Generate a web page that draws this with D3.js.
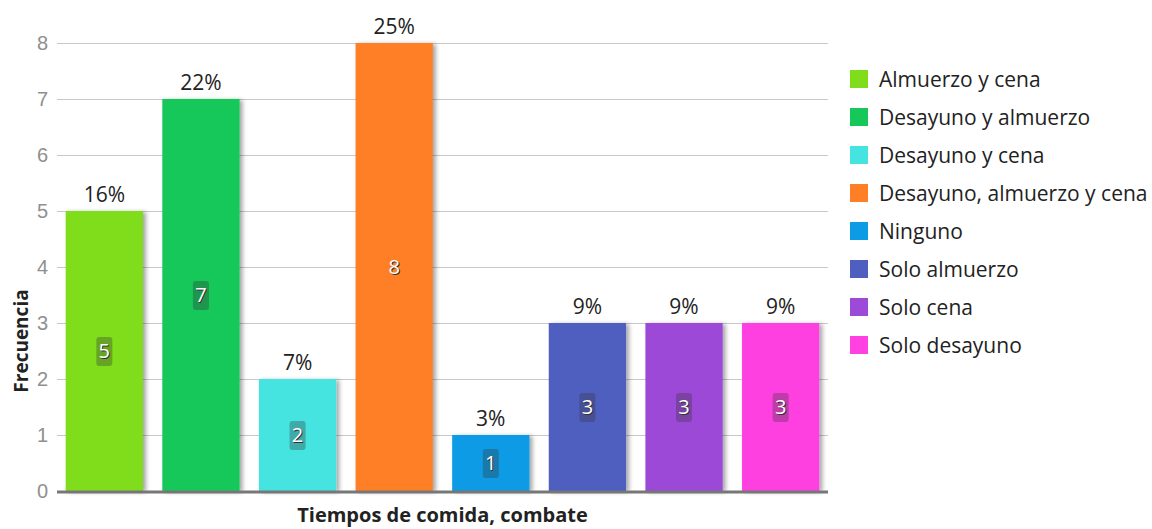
<!DOCTYPE html>
<html>
<head>
<meta charset="utf-8">
<script src="https://cdn.jsdelivr.net/npm/d3@7"></script>
<style>
  html, body { margin: 0; padding: 0; background: #fff; }
  svg { display: block; font-family: "Open Sans", "Noto Sans", sans-serif; }
</style>
</head>
<body>
<svg id="chart" width="1152" height="529"></svg>
<script>
// Meal times reported (frequency per category)
const categories = [
  "Almuerzo y cena",
  "Desayuno y almuerzo",
  "Desayuno y cena",
  "Desayuno, almuerzo y cena",
  "Ninguno",
  "Solo almuerzo",
  "Solo cena",
  "Solo desayuno"
];
const counts = [5, 7, 2, 8, 1, 3, 3, 3];
const percentLabels = ["16%", "22%", "7%", "25%", "3%", "9%", "9%", "9%"];
const colors = ["#7fdd1b", "#16c75a", "#45e4e1", "#ff7f27", "#0e9be5", "#4f5fc0", "#9d4ad8", "#ff41e1"];
const yTicks = [0, 1, 2, 3, 4, 5, 6, 7, 8];

const svg = d3.select("#chart");
const margin = { left: 57, right: 324, top: 43, bottom: 38 };
const W = 1152, H = 529;

const x = d3.scaleBand()
  .domain(categories)
  .range([margin.left, W - margin.right])
  .paddingInner(0.2)
  .paddingOuter(0.09);

const y = d3.scaleLinear()
  .domain([0, 8])
  .range([H - margin.bottom, margin.top]);

// Drop shadow for bars
const defs = svg.append("defs");
const f = defs.append("filter").attr("id", "shadow")
  .attr("x", "-20%").attr("y", "-20%").attr("width", "150%").attr("height", "150%");
f.append("feDropShadow").attr("dx", 3).attr("dy", 1).attr("stdDeviation", 2)
  .attr("flood-color", "#000").attr("flood-opacity", 0.35);

// Gridlines + y axis labels
const yAxis = d3.axisLeft(y).tickValues(yTicks).tickSize(-(W - margin.right - margin.left)).tickPadding(9);
const yg = svg.append("g").attr("transform", `translate(${margin.left},0)`).call(yAxis);
yg.select(".domain").remove();
yg.selectAll(".tick line").attr("stroke", "#c8c8c8").attr("stroke-width", 1.2);
yg.selectAll(".tick text").attr("fill", "#8f8f8f").style("font-size", "20px").style("font-weight", "300");

// Bars
svg.append("g").selectAll("rect")
  .data(categories)
  .join("rect")
  .attr("x", d => x(d))
  .attr("y", (d, i) => y(counts[i]))
  .attr("width", x.bandwidth())
  .attr("height", (d, i) => y(0) - y(counts[i]))
  .attr("fill", (d, i) => colors[i])
  .attr("filter", "url(#shadow)");

// Baseline
svg.append("line")
  .attr("x1", margin.left).attr("x2", W - margin.right)
  .attr("y1", y(0) + 1).attr("y2", y(0) + 1)
  .attr("stroke", "#777").attr("stroke-width", 3);

// Percentage labels above bars
svg.append("g").selectAll("text")
  .data(categories)
  .join("text")
  .attr("x", d => x(d) + x.bandwidth() / 2)
  .attr("y", (d, i) => y(counts[i]) - 9)
  .attr("text-anchor", "middle")
  .attr("fill", "#222")
  .style("font-size", "21px")
  .text((d, i) => percentLabels[i]);

// Value badges inside bars
const badges = svg.append("g").selectAll("g")
  .data(categories)
  .join("g")
  .attr("transform", (d, i) => `translate(${x(d) + x.bandwidth() / 2},${y(counts[i] / 2)})`);
badges.append("rect")
  .attr("x", -8).attr("y", -14).attr("width", 16).attr("height", 29)
  .attr("rx", 3)
  .attr("fill", "#333")
  .attr("opacity", (d, i) => i === 3 ? 0 : 0.33);
badges.append("text")
  .attr("text-anchor", "middle")
  .attr("dy", "0.36em")
  .attr("fill", "#333")
  .attr("transform", "translate(1,1)")
  .style("font-size", "20px")
  .text((d, i) => counts[i]);
badges.append("text")
  .attr("text-anchor", "middle")
  .attr("dy", "0.36em")
  .attr("fill", "#fff")
  .style("font-size", "20px")
  .text((d, i) => counts[i]);

// Axis titles
svg.append("text")
  .attr("transform", `translate(28,${(y(0) + y(8)) / 2 + 74}) rotate(-90)`)
  .attr("text-anchor", "middle")
  .attr("fill", "#222")
  .style("font-size", "19px")
  .style("font-weight", "bold")
  .text("Frecuencia");

svg.append("text")
  .attr("x", (margin.left + W - margin.right) / 2)
  .attr("y", 522)
  .attr("text-anchor", "middle")
  .attr("fill", "#222")
  .style("font-size", "20px")
  .style("font-weight", "bold")
  .text("Tiempos de comida, combate");

// Legend
const legend = svg.append("g").attr("transform", "translate(850,70)");
const items = legend.selectAll("g")
  .data(categories)
  .join("g")
  .attr("transform", (d, i) => `translate(0,${i * 38})`);
items.append("rect")
  .attr("width", 18).attr("height", 18)
  .attr("fill", (d, i) => colors[i]);
items.append("text")
  .attr("x", 29).attr("y", 9).attr("dy", "0.36em")
  .attr("fill", "#222")
  .style("font-size", "21px")
  .text(d => d);
</script>
</body>
</html>
